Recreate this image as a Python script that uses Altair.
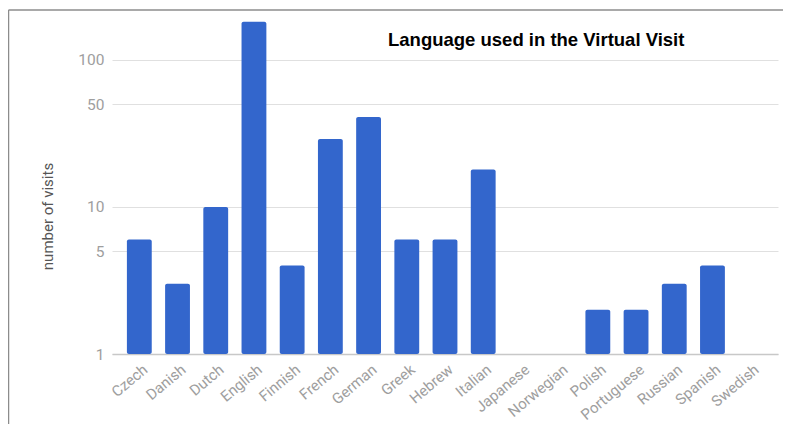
import altair as alt
import pandas as pd

languages = ["Czech", "Danish", "Dutch", "English", "Finnish", "French", "German",
             "Greek", "Hebrew", "Italian", "Japanese", "Norwegian", "Polish",
             "Portuguese", "Russian", "Spanish", "Swedish"]
visits = [6, 3, 10, 182, 4, 29, 41, 6, 6, 18, 1, 1, 2, 2, 3, 4, 1]
y_ticks = [1, 5, 10, 50, 100]

df = pd.DataFrame({"language": languages, "visits": visits, "base": [1] * len(languages)})

bars = alt.Chart(df).mark_bar(color="#3366cc", cornerRadius=2).encode(
    x=alt.X("language:N", sort=languages, title=None,
            scale=alt.Scale(paddingInner=0.35, paddingOuter=0.39),
            axis=alt.Axis(labelAngle=-40, labelAlign="right", labelBaseline="middle",
                          labelColor="#9e9e9e", labelFont="Roboto", labelFontSize=15,
                          ticks=False, domainColor="#c8c8c8", domainWidth=1.5,
                          labelPadding=13, labelOffset=6, grid=False)),
    y=alt.Y("visits:Q",
            scale=alt.Scale(type="log", domain=[1, 187], nice=False),
            axis=alt.Axis(values=y_ticks, title="number of visits", format="d",
                          labelColor="#9e9e9e", labelFont="Roboto", labelFontSize=15.5,
                          labelPadding=8, ticks=False, domain=False,
                          gridColor="#e0e0e0", titleFont="Roboto", titleFontSize=15,
                          titleFontWeight="normal", titleColor="#555555",
                          titleX=-65, titleY=196, titleAngle=270,
                          titleAlign="center", titleBaseline="middle")),
    y2="base",
)

frame_df = pd.DataFrame({"k": [0]})
left_line = alt.Chart(frame_df).mark_rule(color="#8c8c8c", strokeWidth=1.5).encode(
    x=alt.value(-103.5), y=alt.value(-10), y2=alt.value(420))
top_line = alt.Chart(frame_df).mark_rule(color="#8c8c8c", strokeWidth=1.5).encode(
    x=alt.value(-103.5), x2=alt.value(700), y=alt.value(-10))

chart = alt.layer(bars, left_line, top_line).properties(
    width=666, height=334,
    padding={"left": 104, "top": 12, "right": 5, "bottom": 72},
    autosize=alt.AutoSizeParams(type="none"),
    title=alt.TitleParams("Language used in the Virtual Visit", font="Liberation Sans",
                          fontSize=18.5, fontWeight="bold", color="#000000",
                          anchor="start", frame="group", dx=276, dy=44),
).configure_view(stroke=None)

chart.save("out.html", embed_options={"renderer": "svg", "actions": False})
